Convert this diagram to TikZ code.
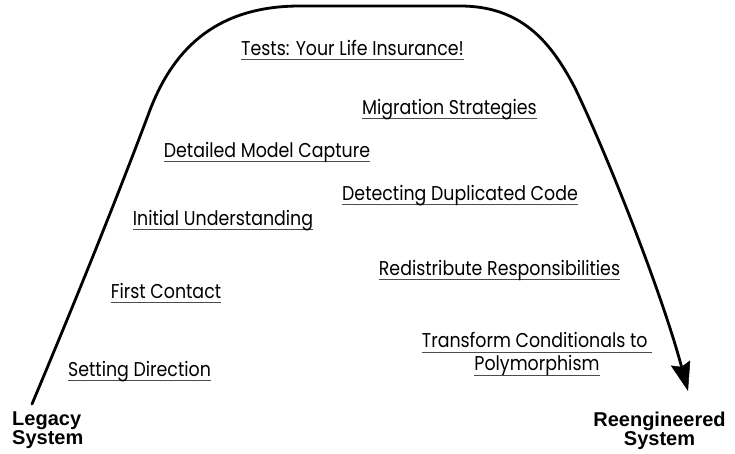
\documentclass[tikz,border=0pt]{standalone}
\usepackage{fontspec}
\setmainfont{Poppins}
\newfontfamily\labfont[FakeStretch=0.87]{Poppins}
\newfontfamily\sysfont{Liberation Sans}
\usetikzlibrary{arrows.meta}
\newsavebox\ulbox
\newcommand\ulab[1]{\sbox\ulbox{#1}\rlap{\color{black!70}\rule[-5pt]{\wd\ulbox}{1.1pt}}\usebox\ulbox}
\tikzset{
  topic/.style={font=\labfont\fontsize{20}{23}\selectfont, inner sep=0pt, anchor=base, text=black},
  system/.style={font=\sysfont\bfseries\fontsize{20}{19}\selectfont, inner sep=0pt},
  hill/.style={line width=2.8pt, line cap=round,
    -{Stealth[length=29pt,width=20pt,inset=4pt,line width=0.5pt]}}
}
\begin{document}
\begin{tikzpicture}[x=1pt,y=-1pt]
\useasboundingbox (0,0) rectangle (735,453);
\coordinate (start) at (32,404);
\coordinate (end) at (688,391);
\draw[hill] (start) .. controls (80,290) and (120,190) .. (150,110)
  .. controls (175,45) and (220,6) .. (300,6)
  -- (460,6) .. controls (520,6) and (550,40) .. (575,88)
  .. controls (605,150) and (661,290) .. (end);

\node[topic] (tests) at (352.5,55) {\ulab{Tests: Your Life Insurance!}};
\node[topic] (migr) at (449.5,114) {\ulab{Migration Strategies}};
\node[topic] (detail) at (267,157) {\ulab{Detailed Model Capture}};
\node[topic] (detect) at (460,200) {\ulab{Detecting Duplicated Code}};
\node[topic] (initial) at (223,225) {\ulab{Initial Understanding}};
\node[topic] (redis) at (499.5,275) {\ulab{Redistribute Responsibilities}};
\node[topic] (first) at (166,298) {\ulab{First Contact}};
\node[topic, anchor=north, align=center] (trans) at (537,332.5)
  {\ulab{Transform Conditionals to\ }\\\ulab{Polymorphism}};
\node[topic] (setting) at (139.5,376) {\ulab{Setting Direction}};

\node[system, anchor=north west, align=left] (legacy) at (12,412) {Legacy\\System};
\node[system, anchor=north, align=center] (reeng) at (659.5,412) {Reengineered\\System};
\end{tikzpicture}
\end{document}
